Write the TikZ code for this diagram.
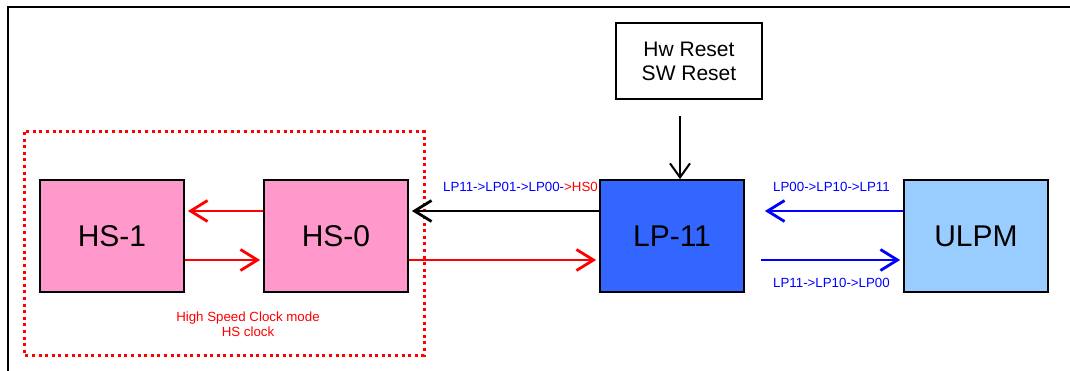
\documentclass[tikz,border=0pt]{standalone}
\usepackage{fontspec}
\setmainfont{Liberation Sans}
\usetikzlibrary{arrows.meta}
\definecolor{hspink}{HTML}{FF99CC}
\definecolor{lpblue}{HTML}{3366FF}
\definecolor{ulblue}{HTML}{99CCFF}
\definecolor{myred}{HTML}{FF0000}
\definecolor{myblue}{HTML}{0000FF}
\begin{document}
\begin{tikzpicture}[x=1pt,y=-1pt,
  statebox/.style={draw=black,line width=1.8pt,minimum width=144pt,minimum height=112pt,inner sep=0pt,font=\fontsize{30}{32}\selectfont},
  resetbox/.style={draw=black,line width=1.5pt,minimum width=146pt,minimum height=76pt,inner sep=0pt,align=center,font=\fontsize{21}{24}\selectfont},
  arr/.style={line width=2.8pt,-{Straight Barb[length=17pt,width=21pt,line width=2.8pt]}},
  lbl/.style={inner sep=0pt,font=\fontsize{13.3}{15.5}\selectfont}]
\useasboundingbox (0,0) rectangle (1070,371);
\fill[white] (0,0) rectangle (1070,371);
% outer frame (top and left)
\draw[line width=1.8pt] (1070,7) -- (8,7) -- (8,371);
% dotted region
\draw[myred,line width=3pt,dash pattern=on 3pt off 3.6pt] (24,132) rectangle (424,355);
% boxes
\node[statebox,fill=hspink] (hs1) at (112,236) {HS-1};
\node[statebox,fill=hspink] (hs0) at (336,236) {HS-0};
\node[statebox,fill=lpblue] (lp) at (672,236) {LP-11};
\node[statebox,fill=ulblue] (ul) at (976,236) {ULPM};
\node[resetbox] (rst) at (689,61) {Hw Reset\\SW Reset};
% reset arrow
\coordinate (rtop) at (680,116);
\draw[arr,line width=2pt,-{Straight Barb[length=14pt,width=20pt,line width=2pt]}] (rtop) -- (rtop |- lp.north);
% arrows within HS
\draw[arr,myred] (hs0.west |- 0,211) -- ([xshift=3pt]hs1.east |- 0,211);
\draw[arr,myred] (hs1.east |- 0,260) -- ([xshift=-3pt]hs0.west |- 0,260);
% LP-11 <-> HS-0
\draw[arr,black] (lp.west |- 0,211) -- ([xshift=3pt]hs0.east |- 0,211);
\draw[arr,myred] (hs0.east |- 0,260) -- ([xshift=-3pt]lp.west |- 0,260);
% ULPM <-> LP-11
\draw[arr,myblue] (ul.west |- 0,211) -- ([xshift=20pt]lp.east |- 0,211);
\draw[arr,myblue] ([xshift=16pt]lp.east |- 0,260) -- ([xshift=-3pt]ul.west |- 0,260);
% labels
\node[lbl,anchor=east] (l1) at (598,187) {\textcolor{myblue}{LP11->LP01->LP00-}\textcolor{myred}{>HS0}};
\node[lbl,anchor=west,text=myblue] (l2) at (773,187) {LP00->LP10->LP11};
\node[lbl,anchor=west,text=myblue] (l3) at (773,283) {LP11->LP10->LP00};
\node[lbl,text=myred,align=center] (l4) at (248,324) {High Speed Clock mode\\HS clock};
\end{tikzpicture}
\end{document}
